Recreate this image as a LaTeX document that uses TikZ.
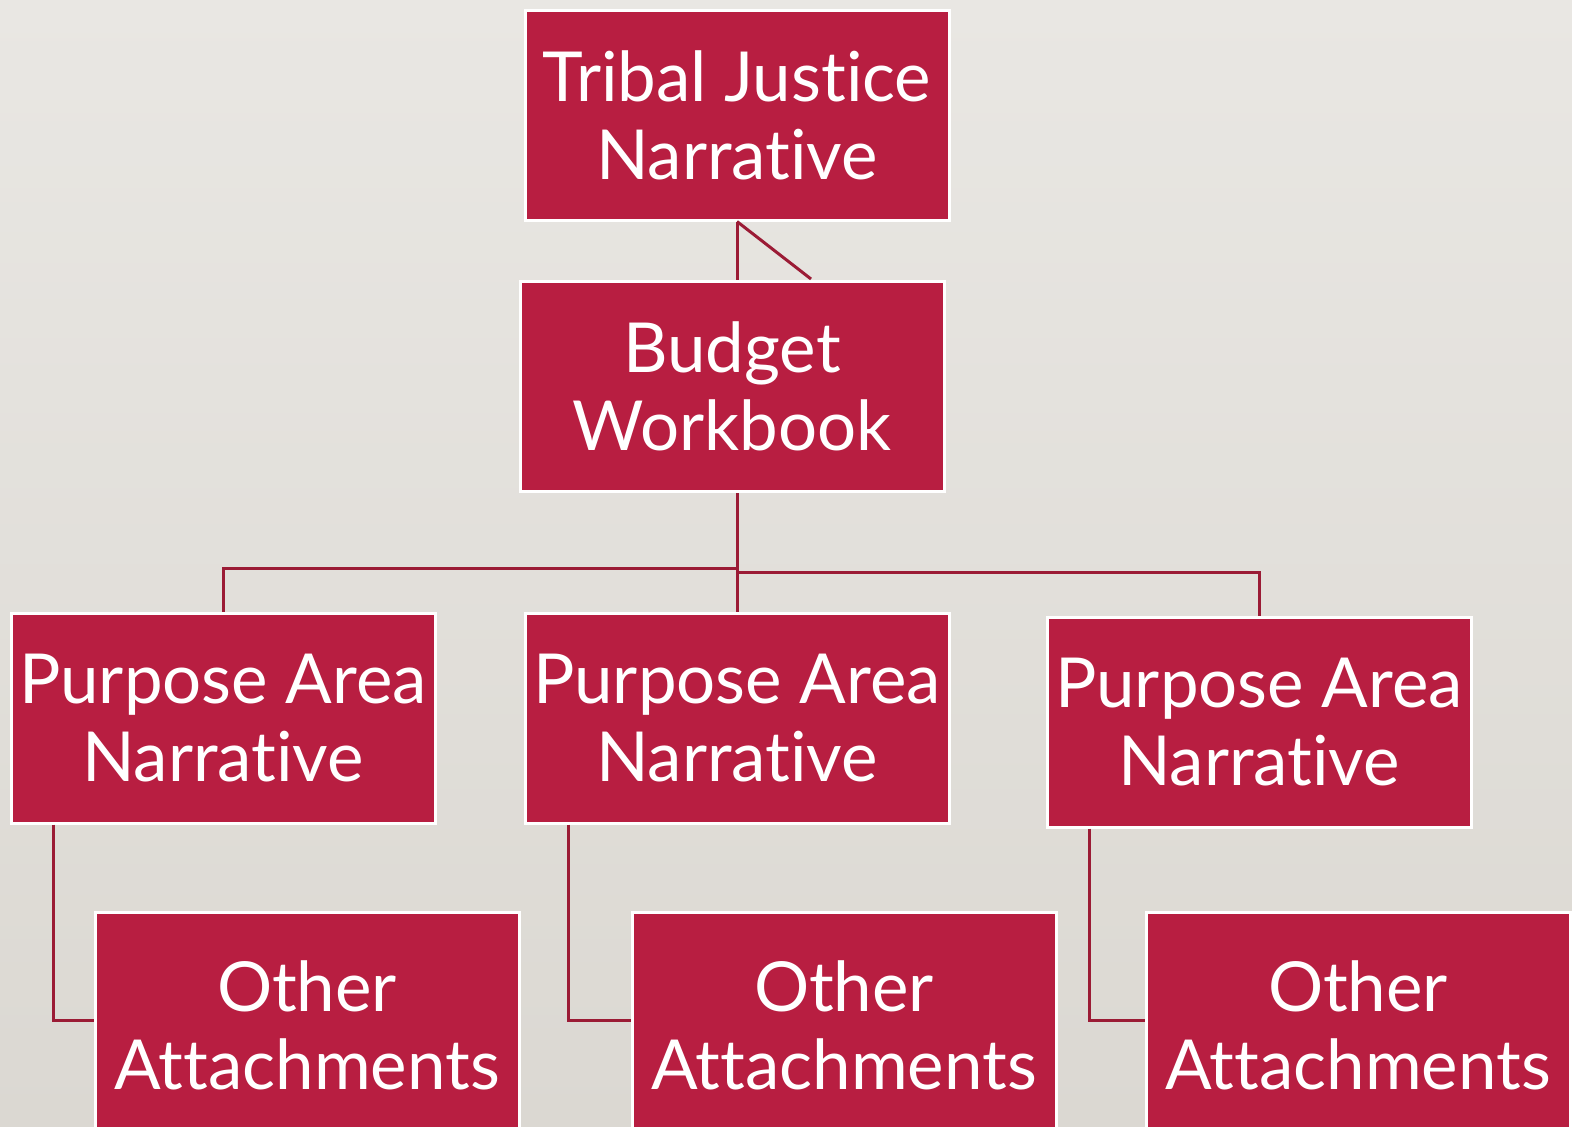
\documentclass[tikz,border=0pt]{standalone}
\usepackage{fontspec}
\setmainfont{Lato}[Ligatures={NoCommon,NoRare,NoDiscretionary}]
\usetikzlibrary{calc}
\definecolor{boxred}{RGB}{184,30,65}
\definecolor{linered}{RGB}{155,27,53}
\definecolor{bgtop}{RGB}{233,231,227}
\definecolor{bgbottom}{RGB}{219,216,210}

\begin{document}
\begin{tikzpicture}[x=1pt, y=-1pt]
    \tikzstyle{box_style} = [draw=white, line width=3, fill=boxred, text=white, align=center,
        minimum width=424, minimum height=210, inner sep=0, font=\fontsize{69}{78}\selectfont]
    \tikzstyle{line_style} = [linered, line width=3]

    % page and background
    \useasboundingbox (0,0) rectangle (1572,1127);
    \shade[top color=bgtop, bottom color=bgbottom] (0,0) rectangle (1572,1127);

    \node[box_style] (tjn) at (737,115) {Tribal Justice\\Narrative};
    \node[box_style] (bw) at (732,386) {Budget\\Workbook};
    \node[box_style] (pa1) at (223,718) {Purpose Area\\Narrative};
    \node[box_style] (pa2) at (737,718) {Purpose Area\\Narrative};
    \node[box_style] (pa3) at (1259,722) {Purpose Area\\Narrative};
    \node[box_style, minimum height=226] (oa1) at (307,1025) {Other\\Attachments};
    \node[box_style, minimum height=226] (oa2) at (844,1025) {Other\\Attachments};
    \node[box_style, minimum height=226] (oa3) at (1358,1025) {Other\\Attachments};
    \coordinate (kink) at (811,279);

    % top links
    \draw[line_style] (tjn.south) -- (tjn.south |- bw.north);
    \draw[line_style] (tjn.south) -- (kink);

    % budget to purpose areas
    \draw[line_style] (pa2.north) -- (pa2.north |- bw.south);
    \draw[line_style] (pa1.north) -- (pa1.north |- 0,568) -- (pa2.north |- 0,568);
    \draw[line_style] (pa3.north) -- (pa3.north |- 0,572) -- (pa2.north |- 0,572);

    % purpose areas to attachments
    \draw[line_style] (pa1.south -| 53,0) |- (oa1.west |- 0,1020);
    \draw[line_style] (pa2.south -| 568,0) |- (oa2.west |- 0,1020);
    \draw[line_style] (pa3.south -| 1089,0) |- (oa3.west |- 0,1020);
\end{tikzpicture}
\end{document}
